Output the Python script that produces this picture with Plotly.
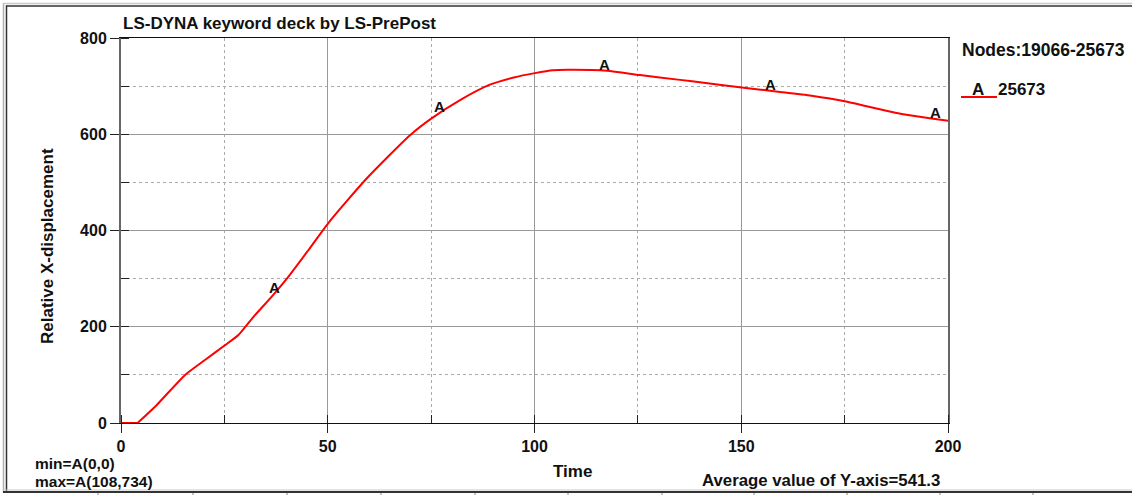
import numpy as np
import plotly.graph_objects as go

# ---- data ----
time = [0, 4, 8.6, 15.5, 20.3, 25.2, 28.4, 30, 32.4, 36.4, 40.3, 45.3, 50.1, 59.4,
        69.9, 75.1, 82, 89.2, 95, 100.1, 104.5, 108, 117.5, 125.5, 135.2, 140,
        150.1, 159.4, 167, 175.3, 187.6, 196.4, 200]
disp = [0, 0, 37, 100, 131, 162, 183, 199, 224, 262, 302, 359, 415, 508,
        598, 633, 671, 703, 718, 727, 733, 734, 732, 723, 713, 708,
        697, 688, 680, 668, 644, 632, 628]
marker_time = [37, 77, 117, 157, 197]
marker_label = "A"
x_ticks = [0, 50, 100, 150, 200]
y_ticks = [0, 200, 400, 600, 800]
title_text = "LS-DYNA keyword deck by LS-PrePost"
nodes_text = "Nodes:19066-25673"
legend_id = "25673"
min_text = "min=A(0,0)"
max_text = "max=A(108,734)"
avg_text = "Average value of Y-axis=541.3"

W, H = 1132, 495
L, R, T, B = 121, 948, 38, 423


def px(xp):
    return (xp - L) / (R - L)


def py(yp):
    return (B - yp) / (B - T)


FONT = "Liberation Sans, Arial, sans-serif"


def f(size):
    return dict(family=FONT, size=size, color="#111", weight="bold")


fig = go.Figure()
# flat start (linear) and the smooth rise/decay (spline)
fig.add_trace(go.Scatter(x=time[:2], y=disp[:2], mode="lines",
                         line=dict(color="#ff0000", width=2),
                         hoverinfo="skip", showlegend=False))
fig.add_trace(go.Scatter(x=time[1:], y=disp[1:], mode="lines",
                         line=dict(color="#ff0000", width=2, shape="spline", smoothing=0.6),
                         hoverinfo="skip", showlegend=False))

annotations = []
for mt in marker_time:
    my = float(np.interp(mt, time, disp))
    annotations.append(dict(x=mt, y=my, xref="x", yref="y", text=marker_label,
                            showarrow=False, xanchor="center", yanchor="bottom",
                            yshift=-4, font=f(15)))

annotations += [
    dict(x=px(121), y=py(24), xref="paper", yref="paper", text=title_text, showarrow=False,
         xanchor="left", yanchor="middle", font=f(17)),
    dict(x=px(960), y=py(50), xref="paper", yref="paper", text=nodes_text, showarrow=False,
         xanchor="left", yanchor="middle", font=f(17.5)),
    dict(x=px(977.5), y=py(89), xref="paper", yref="paper", text=marker_label, showarrow=False,
         xanchor="center", yanchor="middle", font=f(17)),
    dict(x=px(996), y=py(89), xref="paper", yref="paper", text=legend_id, showarrow=False,
         xanchor="left", yanchor="middle", font=f(17)),
    dict(x=px(34), y=py(463.5), xref="paper", yref="paper", text=min_text, showarrow=False,
         xanchor="left", yanchor="middle", borderpad=0, font=f(15.5)),
    dict(x=px(34), y=py(481.5), xref="paper", yref="paper", text=max_text, showarrow=False,
         xanchor="left", yanchor="middle", borderpad=0, font=f(15.5)),
    dict(x=px(942), y=py(480), xref="paper", yref="paper", text=avg_text, showarrow=False,
         xanchor="right", yanchor="middle", font=f(16.8)),
    dict(x=px(572), y=py(471), xref="paper", yref="paper", text="Time", showarrow=False,
         xanchor="center", yanchor="middle", font=f(17)),
    dict(x=px(48), y=py(246), xref="paper", yref="paper", text="Relative X-displacement",
         showarrow=False, textangle=-90, xanchor="center", yanchor="middle", font=f(17)),
]

shapes = [
    # legend line
    dict(type="line", xref="paper", yref="paper", x0=px(961), x1=px(997), y0=py(97), y1=py(97),
         line=dict(color="#ff0000", width=2)),
    # outer frame
    dict(type="line", xref="paper", yref="paper", x0=px(3.5), x1=px(3.5), y0=py(3), y1=py(493),
         line=dict(color="#b0b0b0", width=1.5)),
    dict(type="line", xref="paper", yref="paper", x0=px(6.5), x1=px(6.5), y0=py(5.5), y1=py(492),
         line=dict(color="#333", width=1.5)),
    dict(type="line", xref="paper", yref="paper", x0=px(3), x1=px(1132), y0=py(3.5), y1=py(3.5),
         line=dict(color="#c8c8c8", width=1.5)),
    dict(type="line", xref="paper", yref="paper", x0=px(6), x1=px(1132), y0=py(6), y1=py(6),
         line=dict(color="#333", width=1.5)),
    dict(type="line", xref="paper", yref="paper", x0=px(3), x1=px(1132), y0=py(490), y1=py(490),
         line=dict(color="#c8c8c8", width=1)),
    dict(type="line", xref="paper", yref="paper", x0=px(3), x1=px(1132), y0=py(492), y1=py(492),
         line=dict(color="#333", width=2)),
]
for bx in [98, 193, 287, 381, 475, 568, 662, 754, 847, 940, 1033]:
    shapes.append(dict(type="line", xref="paper", yref="paper", x0=px(bx), x1=px(bx),
                       y0=py(493), y1=py(495), line=dict(color="#888", width=1)))

fig.update_layout(
    width=W, height=H,
    margin=dict(l=L, r=W - R, t=T, b=H - B),
    paper_bgcolor="white", plot_bgcolor="white",
    showlegend=False,
    annotations=annotations,
    shapes=shapes,
    xaxis=dict(range=[0, 200], tickvals=x_ticks, ticks="outside", ticklen=9, tickcolor="#222",
               showline=True, linecolor="#111", linewidth=1, mirror=True,
               showgrid=True, gridcolor="#999", gridwidth=1, zeroline=False,
               tickfont=f(16),
               minor=dict(dtick=25, tick0=0, showgrid=True, gridcolor="#aaa", griddash="3px,3px",
                          ticks="inside", ticklen=8, tickcolor="#222")),
    yaxis=dict(range=[0, 800], tickvals=y_ticks, ticks="outside", ticklen=9, tickcolor="#222",
               showline=True, linecolor="#666", linewidth=2, mirror=True,
               showgrid=True, gridcolor="#999", gridwidth=1, zeroline=False,
               tickfont=f(16),
               minor=dict(dtick=100, tick0=0, showgrid=True, gridcolor="#aaa", griddash="3px,3px",
                          ticks="inside", ticklen=8, tickcolor="#222")),
)
fig.write_html("out.html")
